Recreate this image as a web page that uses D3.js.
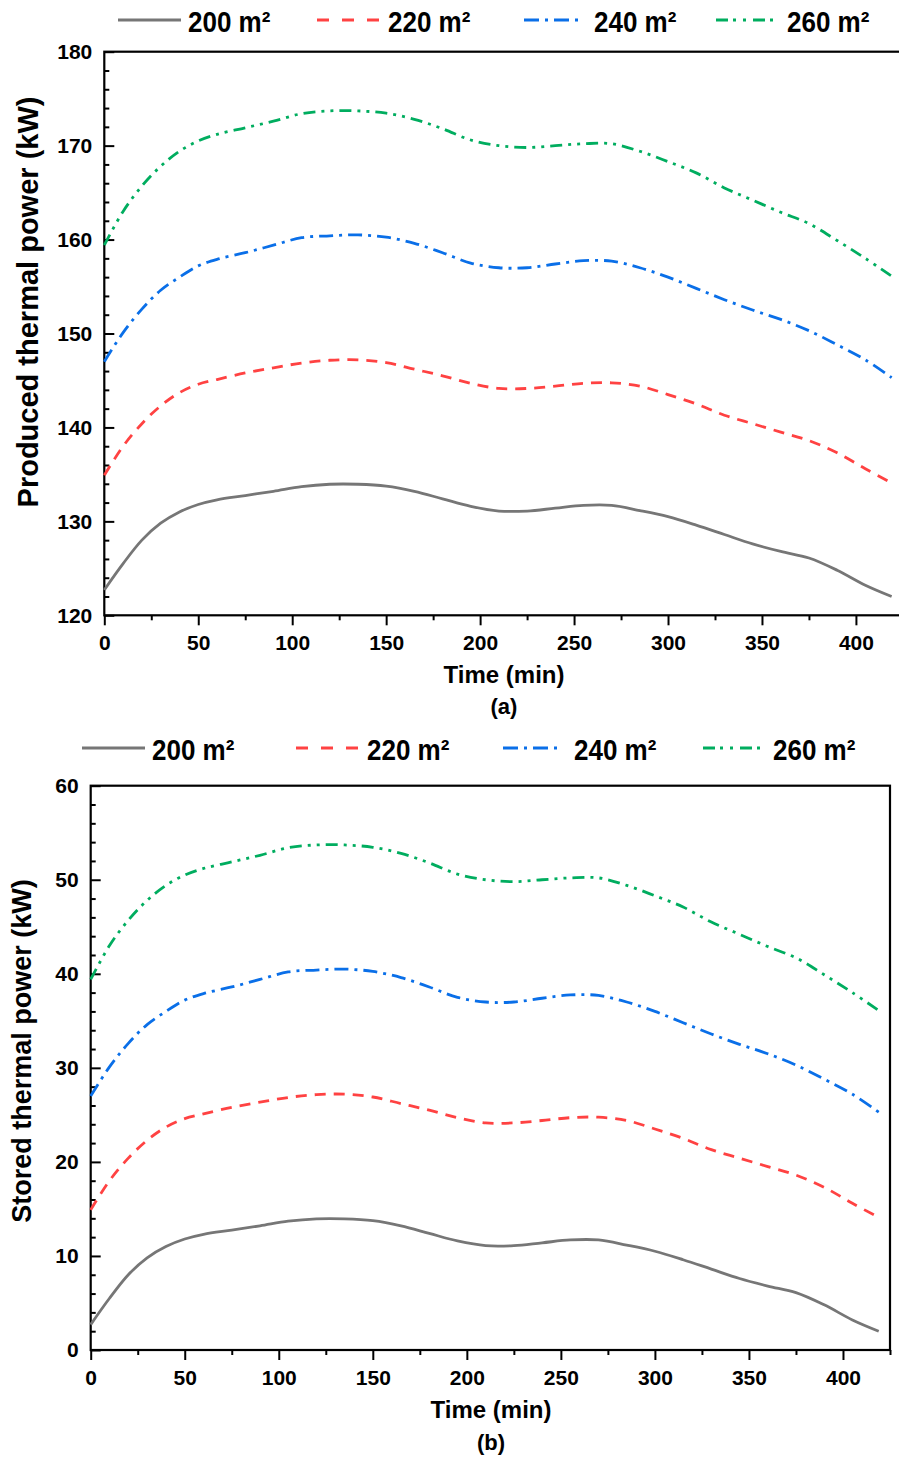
<!DOCTYPE html>
<html>
<head>
<meta charset="utf-8">
<script src="https://cdn.jsdelivr.net/npm/d3@7"></script>
<style>
  body { margin: 0; background: #fff; }
  text { font-family: "Liberation Sans", Arial, sans-serif; font-weight: bold; fill: #000; }
</style>
</head>
<body>
<svg width="899" height="1457"></svg>
<script>
// time samples (min)
const times = [0, 10, 20, 30, 40, 50, 60, 75, 90, 105, 120, 135, 150, 165, 180, 195, 210,
               225, 240, 255, 270, 285, 300, 315, 330, 345, 360, 375, 390, 405, 419];

const areas = ["200 m²", "220 m²", "240 m²", "260 m²"];

// (a) produced thermal power (kW)
const produced200 = [122.7, 125.5, 128.0, 129.8, 131.0, 131.8, 132.3, 132.75, 133.2, 133.7, 133.95, 133.95, 133.75, 133.2, 132.4, 131.6, 131.1,
                     131.1, 131.4, 131.7, 131.7, 131.15, 130.5, 129.6, 128.6, 127.6, 126.8, 126.1, 124.8, 123.2, 122.0];
const produced220 = [134.9, 138.0, 140.4, 142.3, 143.7, 144.6, 145.1, 145.8, 146.35, 146.85, 147.15, 147.2, 146.9, 146.2, 145.5, 144.7, 144.15,
                     144.15, 144.4, 144.7, 144.75, 144.4, 143.5, 142.5, 141.3, 140.4, 139.5, 138.6, 137.3, 135.6, 134.1];
const produced240 = [147.0, 150.1, 152.6, 154.6, 156.0, 157.2, 157.9, 158.6, 159.4, 160.2, 160.4, 160.5, 160.25, 159.6, 158.6, 157.5, 157.0,
                     157.0, 157.4, 157.75, 157.7, 157.0, 156.0, 154.8, 153.6, 152.5, 151.5, 150.3, 148.8, 147.2, 145.3];
const produced260 = [159.4, 163.0, 165.7, 167.8, 169.4, 170.5, 171.2, 171.9, 172.6, 173.4, 173.7, 173.7, 173.45, 172.8, 171.8, 170.6, 170.0,
                     169.8, 170.0, 170.2, 170.2, 169.4, 168.3, 167.1, 165.5, 164.2, 162.9, 161.7, 159.9, 158.0, 156.1];

// (b) stored thermal power (kW)
const stored200 = [2.7, 5.5, 8.0, 9.8, 11.0, 11.8, 12.3, 12.75, 13.2, 13.7, 13.95, 13.95, 13.75, 13.2, 12.4, 11.6, 11.1,
                   11.1, 11.4, 11.7, 11.7, 11.15, 10.5, 9.6, 8.6, 7.6, 6.8, 6.1, 4.8, 3.2, 2.0];
const stored220 = [14.9, 18.0, 20.4, 22.3, 23.7, 24.6, 25.1, 25.8, 26.35, 26.85, 27.15, 27.2, 26.9, 26.2, 25.5, 24.7, 24.15,
                   24.15, 24.4, 24.7, 24.75, 24.4, 23.5, 22.5, 21.3, 20.4, 19.5, 18.6, 17.3, 15.6, 14.1];
const stored240 = [27.0, 30.1, 32.6, 34.6, 36.0, 37.2, 37.9, 38.6, 39.4, 40.2, 40.4, 40.5, 40.25, 39.6, 38.6, 37.5, 37.0,
                   37.0, 37.4, 37.75, 37.7, 37.0, 36.0, 34.8, 33.6, 32.5, 31.5, 30.3, 28.8, 27.2, 25.3];
const stored260 = [39.4, 43.0, 45.7, 47.8, 49.4, 50.5, 51.2, 51.9, 52.6, 53.4, 53.7, 53.7, 53.45, 52.8, 51.8, 50.6, 50.0,
                   49.8, 50.0, 50.2, 50.2, 49.4, 48.3, 47.1, 45.5, 44.2, 42.9, 41.7, 39.9, 38.0, 36.1];

const xMajorTicks = [0, 50, 100, 150, 200, 250, 300, 350, 400];
const yTicksA = [120, 130, 140, 150, 160, 170, 180];
const yTicksB = [0, 10, 20, 30, 40, 50, 60];

const colors = ["#767676", "#ff4242", "#0a6fe8", "#00ad5f"];
const dashes = [null, "11,8", "14,6,3,6", "12,6,3,6,3,6"];
const legendDashes = [null, "12,13", "15,6,3,6", "12,5,3,7,3,7"];

const svg = d3.select("svg");

function drawPanel(p) {
  const x = d3.scaleLinear().domain([0, 425]).range([p.left, p.right]);
  const y = d3.scaleLinear().domain(p.yDomain).range([p.bottom, p.top]);
  const g = svg.append("g");

  // minor ticks
  const xMinor = d3.range(25, 426, 50);
  const yMinor = d3.range(p.yDomain[0], p.yDomain[1] + 0.1, 2).filter(v => (v - p.yDomain[0]) % 10 !== 0);

  g.append("g")
    .attr("transform", `translate(0,${p.bottom})`)
    .call(d3.axisBottom(x).tickValues(xMinor).tickSize(5).tickFormat(""))
    .call(a => a.select(".domain").remove())
    .selectAll("line").attr("stroke", "#000").attr("stroke-width", 2);

  g.append("g")
    .attr("transform", `translate(${p.left},0)`)
    .call(d3.axisLeft(y).tickValues(yMinor).tickSize(-5).tickFormat(""))
    .call(a => a.select(".domain").remove())
    .selectAll("line").attr("stroke", "#000").attr("stroke-width", 2);

  // major axes
  const xAxis = g.append("g")
    .attr("transform", `translate(0,${p.bottom})`)
    .call(d3.axisBottom(x).tickValues(xMajorTicks).tickSize(10).tickPadding(10));
  const yAxis = g.append("g")
    .attr("transform", `translate(${p.left},0)`)
    .call(d3.axisLeft(y).tickValues(p.yTicks).tickSize(-10).tickPadding(12));

  [xAxis, yAxis].forEach(a => {
    a.select(".domain").remove();
    a.selectAll("line").attr("stroke", "#000").attr("stroke-width", 2);
    a.selectAll("text").attr("font-size", 21).attr("font-family", null).attr("fill", "#000");
  });

  // frame
  g.append("rect")
    .attr("x", p.left).attr("y", p.top)
    .attr("width", p.right - p.left).attr("height", p.bottom - p.top)
    .attr("fill", "none").attr("stroke", "#000").attr("stroke-width", 2.2);

  // curves
  const line = d3.line()
    .x((d, i) => x(times[i]))
    .y(d => y(d))
    .curve(d3.curveCatmullRom.alpha(0.5));

  p.series.forEach((s, i) => {
    g.append("path")
      .datum(s)
      .attr("d", line)
      .attr("fill", "none")
      .attr("stroke", colors[i])
      .attr("stroke-width", 2.8)
      .attr("stroke-dasharray", dashes[i]);
  });

  // legend
  areas.forEach((name, i) => {
    const lx = p.legendX[i];
    g.append("line")
      .attr("x1", lx).attr("x2", lx + p.legendLen[i])
      .attr("y1", p.legendY).attr("y2", p.legendY)
      .attr("stroke", colors[i]).attr("stroke-width", 2.8)
      .attr("stroke-dasharray", legendDashes[i]);
    g.append("text")
      .attr("transform", `translate(${p.legendText[i]},${p.legendY + 11.5}) scale(1,1.1)`)
      .attr("font-size", 26)
      .text(name);
  });

  // titles
  g.append("text")
    .attr("x", p.xTitleX).attr("y", p.xTitleY)
    .attr("text-anchor", "middle").attr("font-size", 24)
    .text("Time (min)");
  g.append("text")
    .attr("x", p.xTitleX).attr("y", p.labelY)
    .attr("text-anchor", "middle").attr("font-size", 22)
    .text(p.label);
  g.append("text")
    .attr("transform", `translate(${p.yTitleX},${p.yTitleY}) rotate(-90)`)
    .attr("text-anchor", "middle").attr("font-size", p.yTitleSize)
    .text(p.yTitle);
}

drawPanel({
  left: 104.3, right: 902.9, top: 51.7, bottom: 615.3,
  yDomain: [120, 180], yTicks: yTicksA,
  series: [produced200, produced220, produced240, produced260],
  legendY: 20,
  legendX: [118, 317, 524, 716], legendLen: [63, 62, 56, 59],
  legendText: [188, 388, 594, 787],
  xTitleX: 504, xTitleY: 683, labelY: 714,
  yTitleX: 38, yTitleY: 302, yTitleSize: 29,
  yTitle: "Produced thermal power (kW)", label: "(a)"
});

drawPanel({
  left: 90.7, right: 890, top: 785.7, bottom: 1350,
  yDomain: [0, 60], yTicks: yTicksB,
  series: [stored200, stored220, stored240, stored260],
  legendY: 748,
  legendX: [82, 296, 503, 703], legendLen: [63, 62, 56, 59],
  legendText: [152, 367, 574, 773],
  xTitleX: 491, xTitleY: 1418, labelY: 1450,
  yTitleX: 31, yTitleY: 1051, yTitleSize: 27,
  yTitle: "Stored thermal power (kW)", label: "(b)"
});
</script>
</body>
</html>
